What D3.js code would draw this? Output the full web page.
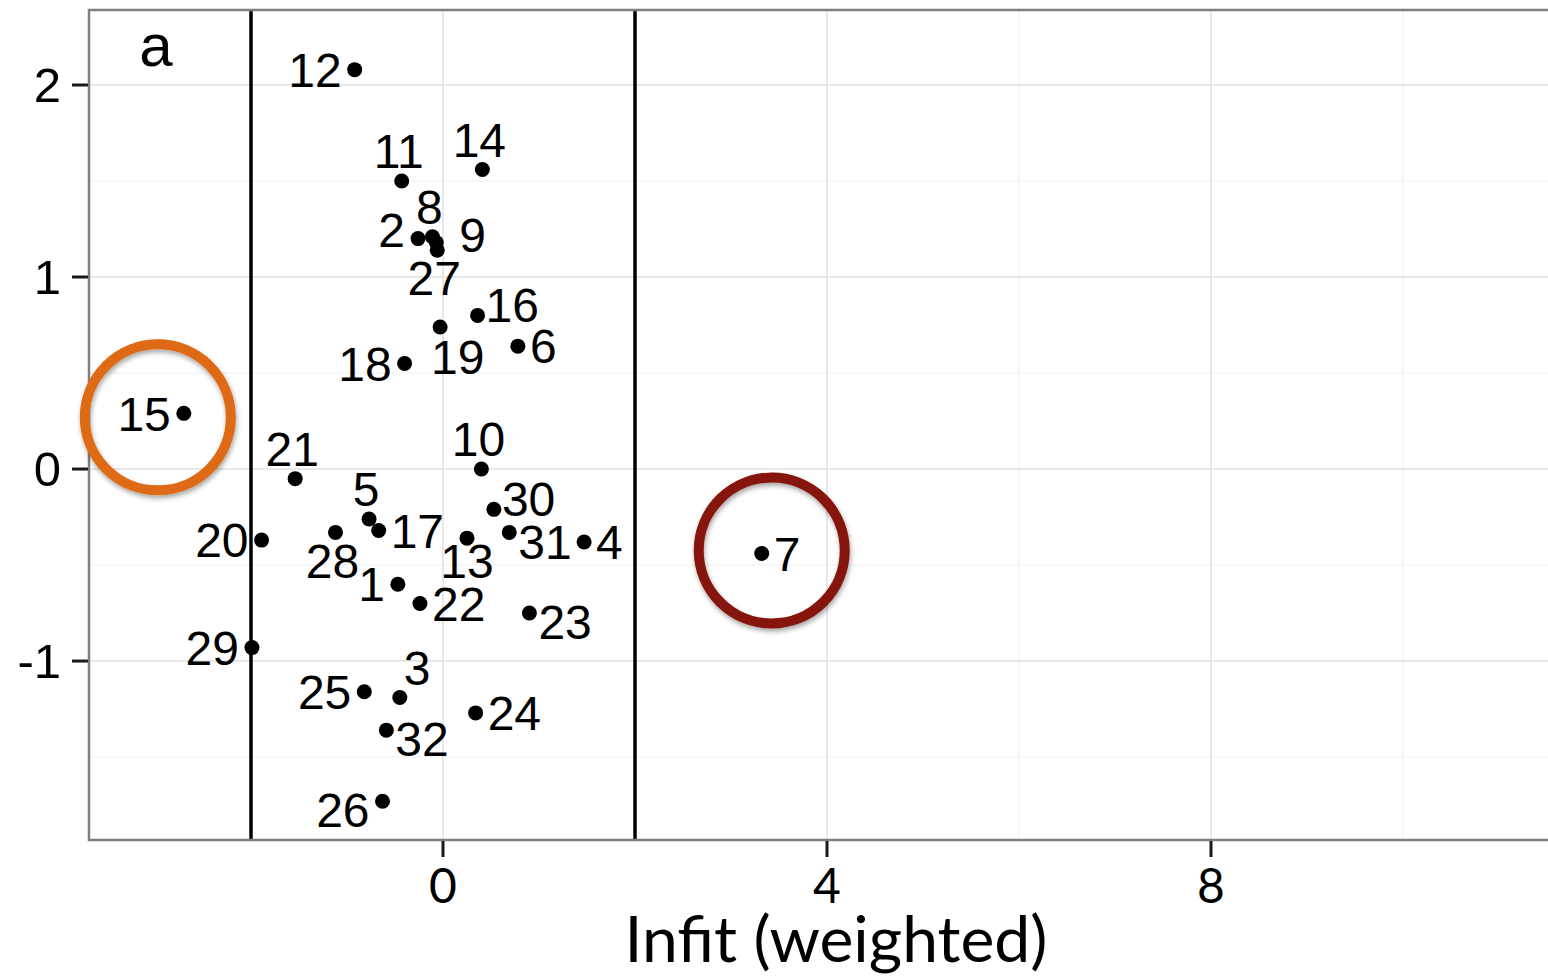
<!DOCTYPE html>
<html>
<head>
<meta charset="utf-8">
<script src="https://cdn.jsdelivr.net/npm/d3@7/dist/d3.min.js"></script>
<style>
  html, body { margin: 0; padding: 0; background: #fff; }
  svg { display: block; }
</style>
</head>
<body>
<svg id="chart" width="1548" height="977"></svg>
<script>
// ---- data ----
const itemIds = [1,2,3,4,5,6,7,8,9,10,11,12,13,14,15,16,17,18,19,20,21,22,23,24,25,26,27,28,29,30,31,32];
const infitValues = [-0.47,-0.26,-0.45,1.47,-0.77,0.78,3.32,-0.11,-0.07,0.40,-0.43,-0.92,0.25,0.41,-2.70,0.36,-0.67,-0.40,-0.03,-1.89,-1.54,-0.24,0.90,0.34,-0.82,-0.63,-0.06,-1.12,-1.99,0.53,0.69,-0.59];
const measureValues = [-0.60,1.20,-1.19,-0.38,-0.26,0.64,-0.44,1.21,1.18,0.00,1.50,2.08,-0.36,1.56,0.29,0.80,-0.32,0.55,0.74,-0.37,-0.05,-0.70,-0.75,-1.27,-1.16,-1.73,1.14,-0.33,-0.93,-0.21,-0.33,-1.36];
const labelSide = ["l","lt","tr","r","t","r","r","t","rw","t","t","l","bs","t","l","rt","r","l","br","l","t","r","rb","r","l","lb","b","b","l","rt","rb","rb"];
const xTicks = [0,4,8];
const xMinor = [-2,2,6,10];
const yTicks = [-1,0,1,2];
const yMinor = [-1.5,-0.5,0.5,1.5];
const cutoffs = [-2,2];
const flaggedItems = [15,7];
const flaggedColors = ["#df6a14","#861309"];
const panelTag = "a";
const xTitle = "Infit (weighted)";

// ---- layout ----
const svg = d3.select("#chart");
const P = {left: 89, top: 10, right: 1583, bottom: 840};
const x = d3.scaleLinear().domain([-3.6875, 11.875]).range([P.left, P.right]);
const y = d3.scaleLinear().domain([-1.932, 2.3906]).range([P.bottom, P.top]);
const tickFmt = d => String(d);

const defs = svg.append("defs");
const f = defs.append("filter").attr("id","shadow").attr("x","-30%").attr("y","-30%").attr("width","160%").attr("height","160%");
f.append("feDropShadow").attr("dx",1).attr("dy",3).attr("stdDeviation",2.5).attr("flood-color","#000").attr("flood-opacity",0.35);
defs.append("clipPath").attr("id","panel").append("rect")
  .attr("x",P.left).attr("y",P.top).attr("width",P.right-P.left).attr("height",P.bottom-P.top);

const g = svg.append("g").attr("clip-path","url(#panel)");
// minor grid
g.selectAll(".vminor").data(xMinor).join("line")
  .attr("x1",d=>x(d)).attr("x2",d=>x(d)).attr("y1",P.top).attr("y2",P.bottom)
  .attr("stroke","#f7f7f7").attr("stroke-width",2);
g.selectAll(".hminor").data(yMinor).join("line")
  .attr("y1",d=>y(d)).attr("y2",d=>y(d)).attr("x1",P.left).attr("x2",P.right)
  .attr("stroke","#f7f7f7").attr("stroke-width",2);
// major grid
g.selectAll(".vmajor").data(xTicks).join("line")
  .attr("x1",d=>x(d)).attr("x2",d=>x(d)).attr("y1",P.top).attr("y2",P.bottom)
  .attr("stroke","#e8e8e8").attr("stroke-width",2);
g.selectAll(".hmajor").data(yTicks).join("line")
  .attr("y1",d=>y(d)).attr("y2",d=>y(d)).attr("x1",P.left).attr("x2",P.right)
  .attr("stroke","#e8e8e8").attr("stroke-width",2);

// cutoff lines
g.selectAll(".cut").data(cutoffs).join("line")
  .attr("x1",d=>x(d)).attr("x2",d=>x(d)).attr("y1",P.top).attr("y2",P.bottom)
  .attr("stroke","#000").attr("stroke-width",3.5);

// points
const pts = itemIds.map((id,i)=>({id, xv: infitValues[i], yv: measureValues[i], side: labelSide[i]}));
g.selectAll(".pt").data(pts).join("circle")
  .attr("cx",d=>x(d.xv)).attr("cy",d=>y(d.yv)).attr("r",7.5).attr("fill","#000");

// labels
const FS = 48;
const off = {
  l:  {a:"end",   dx:-13, dy:0},
  lt: {a:"end",   dx:-13, dy:-9},
  lb: {a:"end",   dx:-13, dy:9},
  r:  {a:"start", dx:12,  dy:0},
  rw: {a:"start", dx:23,  dy:-8},
  rt: {a:"start", dx:8,   dy:-11},
  rb: {a:"start", dx:9,   dy:9},
  t:  {a:"middle",dx:-3,  dy:-30},
  b:  {a:"middle",dx:-3,  dy:28},
  bs: {a:"middle",dx:0,   dy:23},
  tr: {a:"start", dx:4,   dy:-30},
  br: {a:"start", dx:-9,  dy:30}
};
g.selectAll(".lab").data(pts).join("text")
  .attr("x",d=>x(d.xv)+off[d.side].dx)
  .attr("y",d=>y(d.yv)+off[d.side].dy + FS*0.358)
  .attr("text-anchor",d=>off[d.side].a)
  .attr("font-family","'Liberation Sans', Arial, sans-serif")
  .attr("font-size",FS).attr("fill","#000")
  .text(d=>d.id);

// panel tag
g.append("text").attr("x",156).attr("y",66).attr("text-anchor","middle")
  .attr("font-family","'Liberation Sans', Arial, sans-serif").attr("font-size",60).text(panelTag);

// panel border
svg.append("rect").attr("x",P.left).attr("y",P.top).attr("width",P.right-P.left).attr("height",P.bottom-P.top)
  .attr("fill","none").attr("stroke","#7f7f7f").attr("stroke-width",2.5);

// axes ticks
svg.selectAll(".xt").data(xTicks).join("line")
  .attr("x1",d=>x(d)).attr("x2",d=>x(d)).attr("y1",P.bottom+1).attr("y2",P.bottom+17)
  .attr("stroke","#1a1a1a").attr("stroke-width",3);
svg.selectAll(".xtl").data(xTicks).join("text")
  .attr("x",d=>x(d)).attr("y",903).attr("text-anchor","middle")
  .attr("font-family","Lato, 'Open Sans', sans-serif").attr("font-size",48).text(tickFmt);
svg.selectAll(".yt").data(yTicks).join("line")
  .attr("y1",d=>y(d)).attr("y2",d=>y(d)).attr("x1",P.left-17).attr("x2",P.left-1)
  .attr("stroke","#1a1a1a").attr("stroke-width",3);
svg.selectAll(".ytl").data(yTicks).join("text")
  .attr("x",61).attr("y",d=>y(d)+17).attr("text-anchor","end")
  .attr("font-family","'Liberation Sans', Arial, sans-serif").attr("font-size",49).text(tickFmt);

// x title
const tt = svg.append("text").attr("x",836).attr("y",962).attr("text-anchor","middle")
  .attr("font-family","Lato, 'Open Sans', sans-serif").attr("font-size",70).text(xTitle);
const w = tt.node().getComputedTextLength();
tt.attr("font-size", 70*423/w);

// flagged circles
const flagged = flaggedItems.map((id,i)=>{ const p = pts.find(q=>q.id===id); return {p, c: flaggedColors[i]}; });
svg.selectAll(".ring").data(flagged).join("circle")
  .attr("cx",d=>x(d.p.xv) + (d.p.side==="l" ? -26 : 10))
  .attr("cy",d=>y(d.p.yv) + (d.p.side==="l" ? 4 : -3))
  .attr("r",73).attr("fill","none").attr("stroke",d=>d.c).attr("stroke-width",10)
  .attr("filter","url(#shadow)");
</script>
</body>
</html>
